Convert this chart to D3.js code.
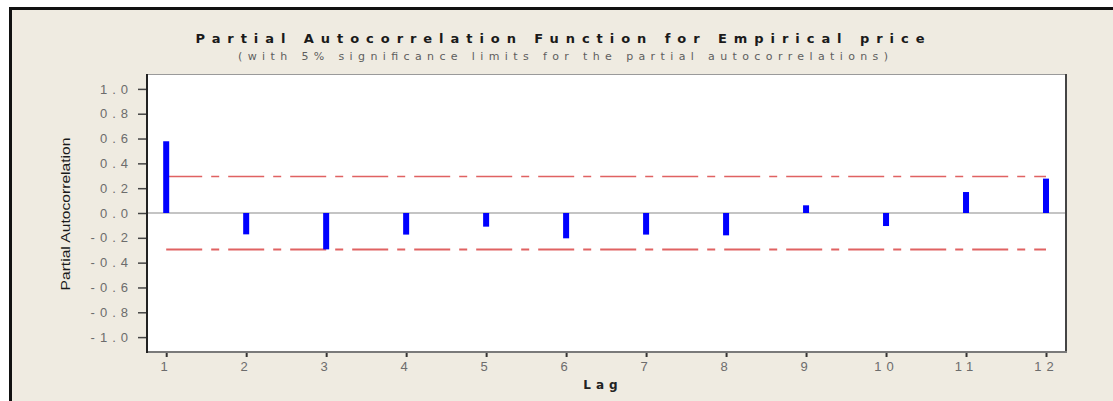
<!DOCTYPE html>
<html>
<head>
<meta charset="utf-8">
<script src="https://cdn.jsdelivr.net/npm/d3@7"></script>
<style>
  body { margin: 0; background: #fff; }
  svg { display: block; }
</style>
</head>
<body>
<svg id="chart" width="1113" height="401"></svg>
<script>
const lags = [1, 2, 3, 4, 5, 6, 7, 8, 9, 10, 11, 12]
const pacf = [0.578, -0.172, -0.293, -0.174, -0.11, -0.204, -0.174, -0.18, 0.062, -0.105, 0.169, 0.277]
const yTicks = [1.0, 0.8, 0.6, 0.4, 0.2, 0.0, -0.2, -0.4, -0.6, -0.8, -1.0]
const limit = 0.294

const svg = d3.select('#chart')
const plotL = 147, plotR = 1066, plotT = 74, plotB = 352

// outer frame
svg.append('rect')
    .attr('x', 10.5).attr('y', 8.5)
    .attr('width', 1200).attr('height', 500)
    .attr('fill', '#efebe1')
    .attr('stroke', '#111')
    .attr('stroke-width', 3)

const x = d3.scaleLinear().domain([0.76, 12.25]).range([plotL, plotR])
const y = d3.scaleLinear().domain([-1.12, 1.12]).range([plotB, plotT])

// plot area
svg.append('rect')
    .attr('x', plotL).attr('y', plotT)
    .attr('width', plotR - plotL).attr('height', plotB - plotT)
    .attr('fill', '#fff')
svg.append('line')
    .attr('x1', plotL).attr('x2', plotR).attr('y1', plotT + 0.5).attr('y2', plotT + 0.5)
    .attr('stroke', '#9a9a9a')
svg.append('line')
    .attr('x1', plotR).attr('x2', plotR).attr('y1', plotT).attr('y2', plotB)
    .attr('stroke', '#444').attr('stroke-width', 2)

// titles
svg.append('text')
    .attr('x', 560).attr('y', 43)
    .attr('text-anchor', 'middle')
    .attr('font-family', 'DejaVu Sans')
    .attr('font-weight', 'bold')
    .attr('font-size', 13)
    .attr('fill', '#1a1a1a')
    .attr('textLength', 729).attr('lengthAdjust', 'spacing')
    .text('Partial Autocorrelation Function for Empirical price')

svg.append('text')
    .attr('x', 563).attr('y', 60)
    .attr('text-anchor', 'middle')
    .attr('font-family', 'DejaVu Sans')
    .attr('font-size', 11)
    .attr('fill', '#5e5e5e')
    .attr('textLength', 650).attr('lengthAdjust', 'spacing')
    .text('(with 5% significance limits for the partial autocorrelations)')

// y axis
const yAxis = svg.append('g')
    .attr('transform', `translate(${plotL},0)`)
    .call(d3.axisLeft(y).tickValues(yTicks).tickSize(9).tickPadding(10).tickFormat(d => d.toFixed(1)))
yAxis.select('.domain').remove()
yAxis.selectAll('.tick line').attr('stroke', '#444').attr('stroke-width', 1.5)
yAxis.selectAll('.tick text')
    .attr('font-family', 'Liberation Sans')
    .attr('font-size', 13)
    .attr('fill', '#6c6c6c')
    .attr('letter-spacing', 5)
    .attr('dx', 5)

// x axis
const xAxis = svg.append('g')
    .attr('transform', `translate(0,${plotB})`)
    .call(d3.axisBottom(x).tickValues(lags).tickSize(5).tickPadding(5).tickFormat(d => d))
xAxis.select('.domain').remove()
xAxis.selectAll('.tick line').attr('stroke', '#333').attr('stroke-width', 2)
xAxis.selectAll('.tick text')
    .attr('font-family', 'Liberation Sans')
    .attr('font-size', 13)
    .attr('fill', '#6c6c6c')
    .attr('letter-spacing', 5)

svg.append('line')
    .attr('x1', plotL).attr('x2', plotR + 1).attr('y1', plotB).attr('y2', plotB)
    .attr('stroke', '#7a7a7a').attr('stroke-width', 2)
svg.append('line')
    .attr('x1', plotL).attr('x2', plotL).attr('y1', plotT).attr('y2', plotB + 1)
    .attr('stroke', '#222').attr('stroke-width', 2)

// axis titles
svg.append('text')
    .attr('transform', `translate(70,214) rotate(-90)`)
    .attr('text-anchor', 'middle')
    .attr('font-family', 'Liberation Sans')
    .attr('font-size', 12.5)
    .attr('fill', '#1a1a1a')
    .attr('textLength', 153).attr('lengthAdjust', 'spacingAndGlyphs')
    .text('Partial Autocorrelation')

svg.append('text')
    .attr('x', 603).attr('y', 389)
    .attr('text-anchor', 'middle')
    .attr('font-family', 'DejaVu Sans')
    .attr('font-weight', 'bold')
    .attr('font-size', 12)
    .attr('fill', '#222')
    .attr('letter-spacing', 5)
    .text('Lag')

// zero line
svg.append('line')
    .attr('x1', plotL + 1).attr('x2', plotR - 1)
    .attr('y1', y(0)).attr('y2', y(0))
    .attr('stroke', '#c4c4c4').attr('stroke-width', 2)

// significance limits
svg.selectAll('line.limit')
    .data([limit, -limit])
    .join('line')
    .attr('class', 'limit')
    .attr('x1', x(1)).attr('x2', x(12))
    .attr('y1', d => y(d)).attr('y2', d => y(d))
    .attr('stroke', '#e06262')
    .attr('stroke-width', d => d > 0 ? 1.3 : 2)
    .attr('stroke-dasharray', '36 9 8 9')

// bars
svg.selectAll('rect.bar')
    .data(pacf)
    .join('rect')
    .attr('class', 'bar')
    .attr('x', (d, i) => x(lags[i]) - 3)
    .attr('width', 6)
    .attr('y', d => Math.min(y(d), y(0)))
    .attr('height', d => Math.abs(y(d) - y(0)))
    .attr('fill', '#0000ff')
</script>
</body>
</html>
